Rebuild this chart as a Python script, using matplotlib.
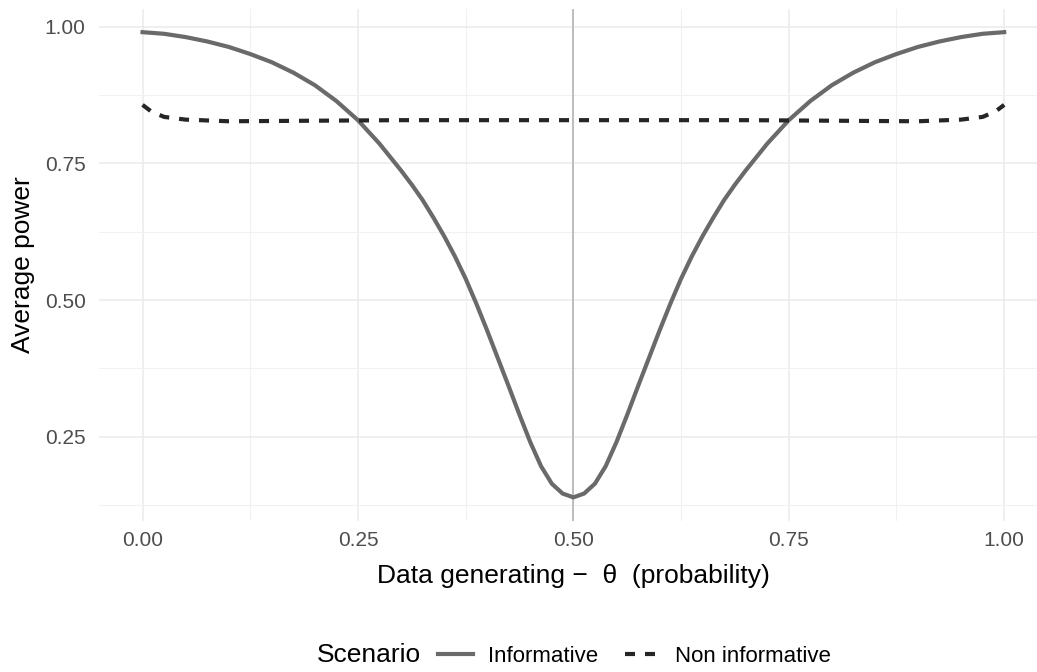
import matplotlib.pyplot as plt
from matplotlib.lines import Line2D
from matplotlib.ticker import MultipleLocator

plt.rcParams['font.family'] = ['Liberation Sans', 'DejaVu Sans']

# power curves
theta_inf = [0.0, 0.025, 0.05, 0.075, 0.10, 0.125, 0.15, 0.175, 0.20, 0.225,
             0.25, 0.275, 0.30, 0.3125, 0.325, 0.3375, 0.35, 0.3625, 0.375,
             0.3875, 0.40, 0.4125, 0.425, 0.4375, 0.45, 0.4625, 0.475, 0.4875,
             0.5,
             0.5125, 0.525, 0.5375, 0.55, 0.5625, 0.575, 0.5875, 0.60, 0.6125,
             0.625, 0.6375, 0.65, 0.6625, 0.675, 0.6875, 0.70, 0.725, 0.75,
             0.775, 0.80, 0.825, 0.85, 0.875, 0.90, 0.925, 0.95, 0.975, 1.0]
power_inf = [0.990, 0.987, 0.981, 0.973, 0.963, 0.950, 0.935, 0.916, 0.893, 0.864,
             0.829, 0.786, 0.737, 0.711, 0.683, 0.651, 0.617, 0.580, 0.539,
             0.493, 0.444, 0.393, 0.342, 0.290, 0.240, 0.196, 0.164, 0.146,
             0.139,
             0.146, 0.164, 0.196, 0.240, 0.290, 0.342, 0.393, 0.444, 0.493,
             0.539, 0.580, 0.617, 0.651, 0.683, 0.711, 0.737, 0.786, 0.829,
             0.864, 0.893, 0.916, 0.935, 0.950, 0.963, 0.973, 0.981, 0.987, 0.990]

theta_non = [0.0, 0.01, 0.025, 0.05, 0.10, 0.20, 0.30, 0.40, 0.50, 0.60, 0.70,
             0.80, 0.90, 0.95, 0.975, 0.99, 1.0]
power_non = [0.857, 0.845, 0.835, 0.830, 0.827, 0.828, 0.829, 0.829, 0.829, 0.829, 0.829,
             0.828, 0.827, 0.830, 0.835, 0.845, 0.857]

ref_theta = 0.5
x_ticks = [0.0, 0.25, 0.5, 0.75, 1.0]
y_ticks = [0.25, 0.5, 0.75, 1.0]

fig = plt.figure(figsize=(10.37, 6.72), dpi=100)
ax = fig.add_axes([0.0959, 0.2253, 0.9140, 0.7615])

ax.set_xlim(-0.05, 1.05)
ax.set_ylim(0.0965, 1.0326)
ax.set_xticks(x_ticks)
ax.set_yticks(y_ticks)
ax.set_xticklabels([f"{v:.2f}" for v in x_ticks])
ax.set_yticklabels([f"{v:.2f}" for v in y_ticks])
ax.xaxis.set_minor_locator(MultipleLocator(0.125))
ax.yaxis.set_minor_locator(MultipleLocator(0.125))
ax.grid(True, which='major', color='#ebebeb', linewidth=1.1)
ax.grid(True, which='minor', color='#f1f1f1', linewidth=0.8)
ax.set_axisbelow(True)
for s in ax.spines.values():
    s.set_visible(False)
ax.tick_params(which='both', length=0)
ax.tick_params(axis='x', pad=7.5, labelsize=15, labelcolor='#4d4d4d')
ax.tick_params(axis='y', pad=10, labelsize=15, labelcolor='#4d4d4d')

ax.axvline(ref_theta, color='#bdbdbd', linewidth=1.4, zorder=1)

solid_col = '#6a6a6a'
dash_col = '#262626'
ax.plot(theta_inf, power_inf, color=solid_col, linewidth=3.0, zorder=2,
        solid_joinstyle='round')
ax.plot(theta_non, power_non, color=dash_col, linewidth=3.0, zorder=3,
        dashes=(2.4, 2.4))

ax.set_xlabel("Data generating \u2212  \u03b8  (probability)", fontsize=19, va='center')
ax.xaxis.set_label_coords(0.5, -0.108)
ax.set_ylabel("Average power", fontsize=19, va='center')
ax.yaxis.set_label_coords(-0.0811, 0.5)

# legend at the bottom, title on the left like ggplot
handles = [Line2D([], [], color=solid_col, linewidth=3.0),
           Line2D([], [], color=dash_col, linewidth=3.0, dashes=(2.4, 2.4))]
fig.text(0.3060, 0.0250, "Scenario", fontsize=19, ha='left', va='center')
fig.legend(handles, ["Informative", "Non informative"], loc='center',
           bbox_to_anchor=(0.6115, 0.0238), ncol=2, frameon=False,
           fontsize=16, handlelength=1.58, handletextpad=0.68,
           columnspacing=1.2, borderpad=0, borderaxespad=0)

fig.savefig("out.png", dpi=100)
